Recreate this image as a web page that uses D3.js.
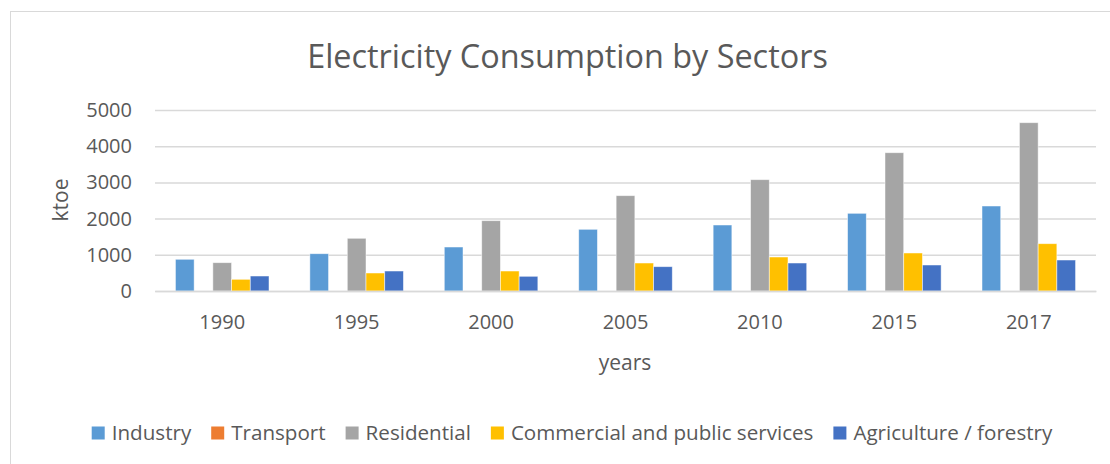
<!DOCTYPE html>
<html>
<head>
<meta charset="utf-8">
<script src="https://cdn.jsdelivr.net/npm/d3@7/dist/d3.min.js"></script>
<style>
  html, body { margin: 0; padding: 0; background: #fff; }
  svg { display: block; }
  text { font-family: "Open Sans", Lato, sans-serif; fill: #595959; }
</style>
</head>
<body>
<svg id="chart" width="1110" height="464"></svg>
<script>
const years = ["1990", "1995", "2000", "2005", "2010", "2015", "2017"];
const seriesNames = ["Industry", "Transport", "Residential", "Commercial and public services", "Agriculture / forestry"];
const industry    = [876, 1030, 1215, 1704, 1823, 2146, 2348];
const transport   = [0, 0, 0, 0, 0, 0, 0];
const residential = [782, 1456, 1942, 2633, 3075, 3820, 4649];
const commercial  = [323, 497, 552, 773, 939, 1050, 1307];
const agriculture = [414, 552, 406, 672, 773, 718, 856];
const yTicks = [0, 1000, 2000, 3000, 4000, 5000];
const colors = ["#5B9BD5", "#ED7D31", "#A5A5A5", "#FFC000", "#4472C4"];

const seriesValues = [industry, transport, residential, commercial, agriculture];
const FONT = "'Open Sans', Lato, sans-serif";

const svg = d3.select("#chart");

// outer chart border
svg.append("rect")
  .attr("x", 10.5).attr("y", 11.5)
  .attr("width", 1200).attr("height", 600)
  .attr("fill", "#fff").attr("stroke", "#d9d9d9").attr("stroke-width", 1);

const plot = { left: 155, right: 1096, top: 110, bottom: 291 };

const x = d3.scaleBand()
  .domain(years)
  .range([plot.left, plot.right])
  .paddingInner(0.304)
  .paddingOuter(0.152);

const xs = d3.scaleBand()
  .domain(seriesNames)
  .range([0, x.bandwidth()]);

const y = d3.scaleLinear()
  .domain([0, 5000])
  .range([plot.bottom, plot.top]);

// gridlines + y tick labels
const yAxis = d3.axisLeft(y).tickValues(yTicks).tickSize(-(plot.right - plot.left)).tickPadding(23).tickFormat(d3.format("d"));
const gy = svg.append("g").attr("transform", `translate(${plot.left},0)`).call(yAxis);
gy.select(".domain").remove();
gy.selectAll(".tick line").attr("stroke", "#d9d9d9").attr("stroke-width", 1.5);
gy.selectAll(".tick text").attr("font-size", 20).style("fill", "#595959").attr("font-family", FONT);

// bars
const groups = svg.append("g").selectAll("g")
  .data(years)
  .join("g")
  .attr("transform", d => `translate(${x(d)},0)`);

groups.selectAll("rect")
  .data((yr, i) => seriesNames.map((s, k) => ({ s, k, v: seriesValues[k][i] })))
  .join("rect")
  .attr("x", d => xs(d.s))
  .attr("width", xs.bandwidth())
  .attr("y", d => y(d.v))
  .attr("height", d => y(0) - y(d.v))
  .attr("fill", d => colors[d.k])
  .attr("stroke", "#ffffff")
  .attr("stroke-opacity", 0.6)
  .attr("stroke-width", 0.8);

// x axis
const xAxis = d3.axisBottom(x).tickSize(0).tickPadding(24);
const gx = svg.append("g").attr("transform", `translate(0,${plot.bottom})`).call(xAxis);
gx.select(".domain").attr("stroke", "#d9d9d9").attr("stroke-width", 1.5);
gx.selectAll(".tick text").attr("font-size", 20).style("fill", "#595959").attr("font-family", FONT);

// title
svg.append("text")
  .attr("x", 567.5).attr("y", 68)
  .attr("text-anchor", "middle")
  .attr("font-size", 32.4)
  .text("Electricity Consumption by Sectors");

// axis titles
svg.append("text")
  .attr("x", 625).attr("y", 370)
  .attr("text-anchor", "middle")
  .attr("font-size", 21)
  .text("years");

svg.append("text")
  .attr("transform", "translate(68,200) rotate(-90)")
  .attr("text-anchor", "middle")
  .attr("font-size", 21)
  .text("ktoe");

// legend
const legend = svg.append("g");
const items = legend.selectAll("g").data(seriesNames).join("g");
items.append("rect")
  .attr("width", 13).attr("height", 13)
  .attr("y", 426.5)
  .attr("fill", (d, i) => colors[i]);
items.append("text")
  .attr("x", 20).attr("y", 440)
  .attr("font-size", 20.6)
  .text(d => d);
let cx = 0;
const offsets = [];
items.each(function () {
  offsets.push(cx);
  const w = d3.select(this).select("text").node().getComputedTextLength();
  cx += 20 + w + 20;
});
const total = cx - 20;
const start = 572 - total / 2;
items.attr("transform", (d, i) => `translate(${start + offsets[i]},0)`);
</script>
</body>
</html>
